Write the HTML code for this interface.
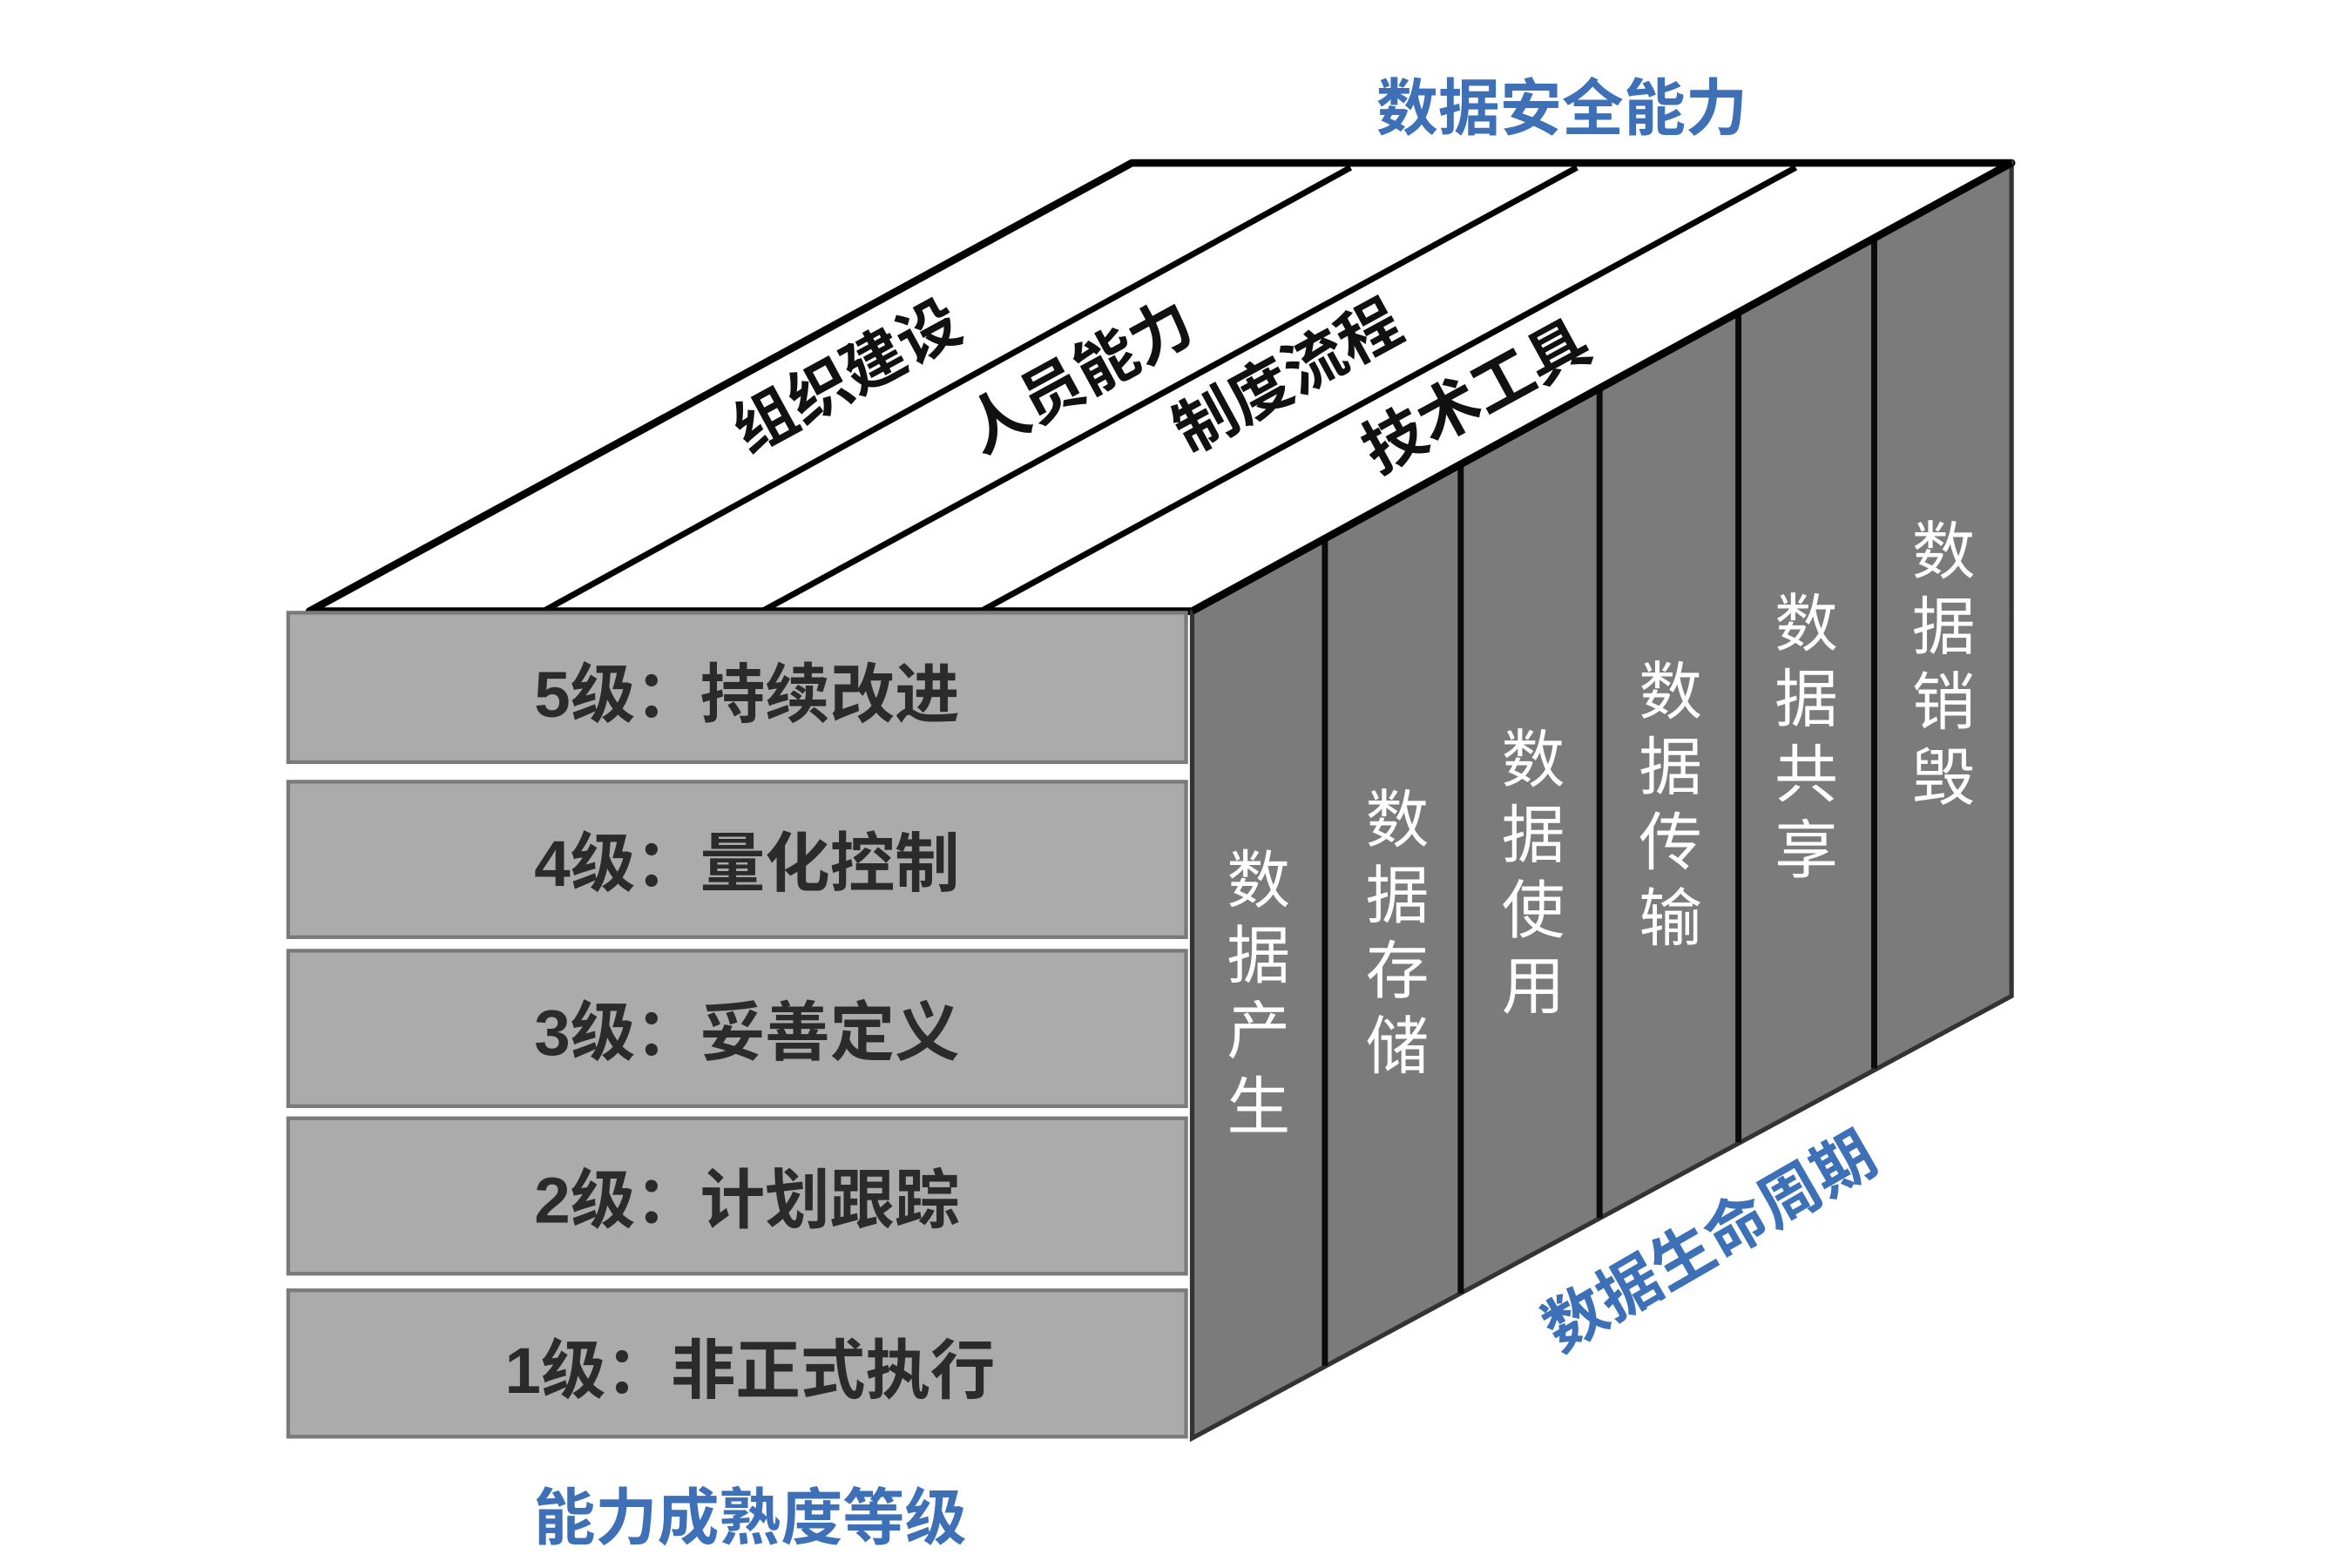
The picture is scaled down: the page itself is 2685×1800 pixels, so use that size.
<!DOCTYPE html>
<html><head><meta charset="utf-8"><style>
html,body{margin:0;padding:0;background:#fff;}
svg{display:block;}
text{font-family:"Liberation Sans","Noto Sans CJK SC",sans-serif;}
</style></head><body>
<svg width="2685" height="1800" viewBox="0 0 1550 1039" preserveAspectRatio="none" xmlns="http://www.w3.org/2000/svg">
<polygon points="205,405 750,108 1333,108 790,405" fill="#fff" stroke="#000" stroke-width="5" stroke-linejoin="round"/>
<g stroke="#000" stroke-width="4">
<line x1="360" y1="405" x2="895" y2="111"/>
<line x1="505" y1="405" x2="1045" y2="111"/>
<line x1="650" y1="405" x2="1190" y2="111"/>
</g>
<polygon points="790,405 1333,108 1333,660 790,953" fill="#7b7b7c" stroke="#333" stroke-width="3"/>
<g stroke="#0a0a0a" stroke-width="4">
<line x1="878" y1="357" x2="878" y2="905"/>
<line x1="968" y1="308" x2="968" y2="857"/>
<line x1="1060" y1="258" x2="1060" y2="807"/>
<line x1="1152" y1="208" x2="1152" y2="757"/>
<line x1="1242" y1="158" x2="1242" y2="708"/>
</g>
<line x1="790" y1="405" x2="1333" y2="108" stroke="#000" stroke-width="5"/>
<g fill="#ababac" stroke="#7a7a7a" stroke-width="2.5">
<rect x="191" y="406" width="595" height="99"/>
<rect x="191" y="518" width="595" height="103"/>
<rect x="191" y="630" width="595" height="103"/>
<rect x="191" y="741" width="595" height="103"/>
<rect x="191" y="855" width="595" height="97"/>
</g>
<g font-size="43" font-weight="bold" fill="#2b2b2b" text-anchor="middle">
<text x="495" y="475">5级：持续改进</text>
<text x="495" y="587">4级：量化控制</text>
<text x="495" y="699">3级：妥善定义</text>
<text x="495" y="810">2级：计划跟踪</text>
<text x="497" y="923">1级：非正式执行</text>
</g>
<g font-size="41" font-weight="bold" fill="#111" text-anchor="middle">
<text transform="translate(568,262) rotate(-28.6)">组织建设</text>
<text transform="translate(722,262) rotate(-28.6)">人员能力</text>
<text transform="translate(860,262) rotate(-28.6)">制度流程</text>
<text transform="translate(985,275) rotate(-28.6)">技术工具</text>
</g>
<g font-size="42" fill="#fff" text-anchor="middle">
<text x="834" y="598">数</text><text x="834" y="648">据</text><text x="834" y="698">产</text><text x="834" y="748">生</text>
<text x="926" y="558">数</text><text x="926" y="608">据</text><text x="926" y="658">存</text><text x="926" y="708">储</text>
<text x="1016" y="518">数</text><text x="1016" y="568">据</text><text x="1016" y="618">使</text><text x="1016" y="668">用</text>
<text x="1107" y="473">数</text><text x="1107" y="523">据</text><text x="1107" y="573">传</text><text x="1107" y="623">输</text>
<text x="1197" y="428">数</text><text x="1197" y="478">据</text><text x="1197" y="528">共</text><text x="1197" y="578">享</text>
<text x="1288" y="380">数</text><text x="1288" y="430">据</text><text x="1288" y="480">销</text><text x="1288" y="530">毁</text>
</g>
<g font-size="41" font-weight="bold" fill="#3d70b6" text-anchor="middle">
<text x="1035" y="86">数据安全能力</text>
<text x="497" y="1020">能力成熟度等级</text>
<text transform="translate(1140,835) rotate(-30)">数据生命周期</text>
</g>
</svg>
</body></html>
